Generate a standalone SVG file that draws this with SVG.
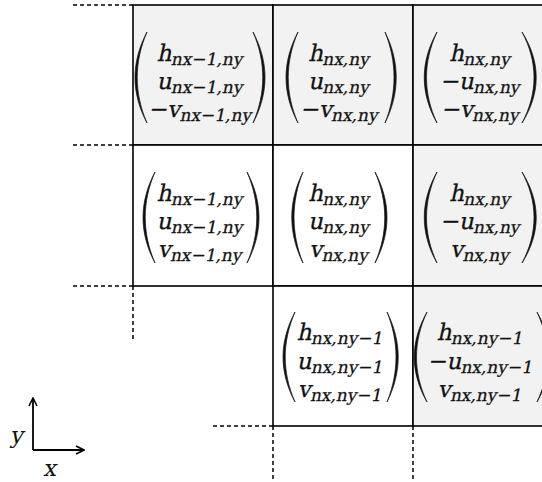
<svg xmlns="http://www.w3.org/2000/svg" width="542" height="482" viewBox="0 0 542 482">
<style>
.cell{stroke:#000;stroke-width:1.6}
.g{fill:#f2f2f2}
.w{fill:#fff}
.par{fill:#111;stroke:#111;stroke-width:0.7;stroke-linejoin:round}
.dash{stroke:#000;stroke-width:1.5;stroke-dasharray:4,3;fill:none}
.ax{stroke:#000;stroke-width:1.8;fill:none}
.t{font-family:"DejaVu Serif","Liberation Serif",serif;font-size:23px;fill:#111;stroke:#111;stroke-width:0.25;text-anchor:middle}
.s{font-size:17px}
.lab{font-family:"DejaVu Serif","Liberation Serif",serif;font-size:23px;fill:#111}
</style>
<defs>
<marker id="arr" viewBox="0 0 10 10" refX="9" refY="5" markerWidth="10" markerHeight="10" markerUnits="userSpaceOnUse" orient="auto">
<path d="M1,1 L9,5 L1,9" fill="none" stroke="#000" stroke-width="1.6"/>
</marker>
</defs>

<g id="cell-r1c1">
<rect class="cell g" x="133" y="5" width="140" height="140"/>
<path class="par" d="M147,32 C131,62 131,93 147,123 C134,93 134,62 147,32 Z"/>
<path class="par" d="M253,32 C269,62 269,93 253,123 C266,93 266,62 253,32 Z"/>
<text class="t" transform="translate(200,61) skewX(-12)">h<tspan class="s" dy="4">nx−1,ny</tspan></text>
<text class="t" transform="translate(200,89) skewX(-12)">u<tspan class="s" dy="4">nx−1,ny</tspan></text>
<text class="t" transform="translate(200,117) skewX(-12)">−v<tspan class="s" dy="4">nx−1,ny</tspan></text>
</g>

<g id="cell-r1c2">
<rect class="cell g" x="273" y="5" width="140" height="140"/>
<path class="par" d="M298,32 C282,62 282,93 298,123 C285,93 285,62 298,32 Z"/>
<path class="par" d="M385,32 C400,62 400,93 385,123 C397,93 397,62 385,32 Z"/>
<text class="t" transform="translate(339,61) skewX(-12)">h<tspan class="s" dy="4">nx,ny</tspan></text>
<text class="t" transform="translate(339,89) skewX(-12)">u<tspan class="s" dy="4">nx,ny</tspan></text>
<text class="t" transform="translate(339,117) skewX(-12)">−v<tspan class="s" dy="4">nx,ny</tspan></text>
</g>

<g id="cell-r1c3">
<rect class="cell g" x="413" y="5" width="140" height="140"/>
<path class="par" d="M437,32 C420,62 420,93 437,123 C423,93 423,62 437,32 Z"/>
<path class="par" d="M522,32 C541,62 541,93 522,123 C538,93 538,62 522,32 Z"/>
<text class="t" transform="translate(480,61) skewX(-12)">h<tspan class="s" dy="4">nx,ny</tspan></text>
<text class="t" transform="translate(480,89) skewX(-12)">−u<tspan class="s" dy="4">nx,ny</tspan></text>
<text class="t" transform="translate(480,117) skewX(-12)">−v<tspan class="s" dy="4">nx,ny</tspan></text>
</g>

<g id="cell-r2c1">
<rect class="cell w" x="133" y="145" width="140" height="141"/>
<path class="par" d="M155,172 C139,202 139,233 155,263 C142,233 142,202 155,172 Z"/>
<path class="par" d="M247,172 C263,202 263,233 247,263 C260,233 260,202 247,172 Z"/>
<text class="t" transform="translate(200,201) skewX(-12)">h<tspan class="s" dy="4">nx−1,ny</tspan></text>
<text class="t" transform="translate(200,229) skewX(-12)">u<tspan class="s" dy="4">nx−1,ny</tspan></text>
<text class="t" transform="translate(200,257) skewX(-12)">v<tspan class="s" dy="4">nx−1,ny</tspan></text>
</g>

<g id="cell-r2c2">
<rect class="cell w" x="273" y="145" width="140" height="141"/>
<path class="par" d="M303,172 C288,202 288,233 303,263 C291,233 291,202 303,172 Z"/>
<path class="par" d="M375,172 C391,202 391,233 375,263 C388,233 388,202 375,172 Z"/>
<text class="t" transform="translate(339,201) skewX(-12)">h<tspan class="s" dy="4">nx,ny</tspan></text>
<text class="t" transform="translate(339,229) skewX(-12)">u<tspan class="s" dy="4">nx,ny</tspan></text>
<text class="t" transform="translate(339,257) skewX(-12)">v<tspan class="s" dy="4">nx,ny</tspan></text>
</g>

<g id="cell-r2c3">
<rect class="cell g" x="413" y="145" width="140" height="141"/>
<path class="par" d="M437,172 C420,202 420,233 437,263 C423,233 423,202 437,172 Z"/>
<path class="par" d="M522,172 C541,202 541,233 522,263 C538,233 538,202 522,172 Z"/>
<text class="t" transform="translate(480,201) skewX(-12)">h<tspan class="s" dy="4">nx,ny</tspan></text>
<text class="t" transform="translate(480,229) skewX(-12)">−u<tspan class="s" dy="4">nx,ny</tspan></text>
<text class="t" transform="translate(480,257) skewX(-12)">v<tspan class="s" dy="4">nx,ny</tspan></text>
</g>

<g id="cell-r3c2">
<rect class="cell w" x="273" y="286" width="140" height="140"/>
<path class="par" d="M295,312 C279,342 279,372 295,402 C282,372 282,342 295,312 Z"/>
<path class="par" d="M387,312 C402,342 402,372 387,402 C399,372 399,342 387,312 Z"/>
<text class="t" transform="translate(340,340) skewX(-12)">h<tspan class="s" dy="4">nx,ny−1</tspan></text>
<text class="t" transform="translate(340,369) skewX(-12)">u<tspan class="s" dy="4">nx,ny−1</tspan></text>
<text class="t" transform="translate(340,397) skewX(-12)">v<tspan class="s" dy="4">nx,ny−1</tspan></text>
</g>

<g id="cell-r3c3">
<rect class="cell g" x="413" y="286" width="140" height="140"/>
<path class="par" d="M427,312 C410,342 410,372 427,402 C413,372 413,342 427,312 Z"/>
<path class="par" d="M537,312 C554,342 554,372 537,402 C551,372 551,342 537,312 Z"/>
<text class="t" transform="translate(480,340) skewX(-12)">h<tspan class="s" dy="4">nx,ny−1</tspan></text>
<text class="t" transform="translate(480,369) skewX(-12)">−u<tspan class="s" dy="4">nx,ny−1</tspan></text>
<text class="t" transform="translate(480,397) skewX(-12)">v<tspan class="s" dy="4">nx,ny−1</tspan></text>
</g>

<g id="connectors">
<path class="dash" d="M73,5 H133 M73,145 H133 M73,286 H133 M133,286 V342 M213,426 H273 M273,426 V482 M413,426 V482"/>
</g>

<g id="axes">
<path class="ax" d="M33,450 V398" marker-end="url(#arr)"/>
<path class="ax" d="M33,450 H84" marker-end="url(#arr)"/>
<text class="lab" transform="translate(10,443) skewX(-12)">y</text>
<text class="lab" transform="translate(43,476) skewX(-12)">x</text>
</g>
</svg>
